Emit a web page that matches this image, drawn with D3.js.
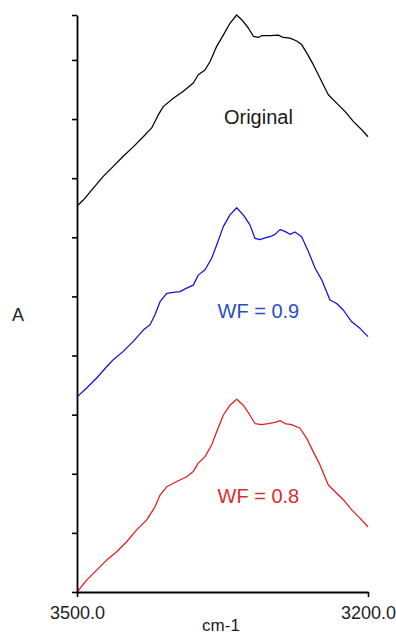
<!DOCTYPE html>
<html>
<head>
<meta charset="utf-8">
<script src="https://cdn.jsdelivr.net/npm/d3@7"></script>
<style>
  html, body { margin: 0; padding: 0; background: #fff; }
  svg { display: block; }
  text { font-family: "Liberation Sans", Arial, sans-serif; }
</style>
</head>
<body>
<svg id="chart" width="396" height="635"></svg>
<script>
// Wavenumber (cm-1) and absorbance readings for each spectrum
const wnOriginal = [3500, 3493.5, 3483.2, 3472.9, 3462.6, 3452.3, 3442.0, 3431.7, 3423.0, 3416.2,
  3411.1, 3400.7, 3390.4, 3380.1, 3375.0, 3368.0, 3362.9, 3356.0, 3349.2, 3342.3,
  3335.4, 3330.2, 3323.4, 3318.2, 3313.1, 3309.6, 3301.0, 3292.5, 3287.3, 3280.4,
  3273.5, 3268.4, 3263.2, 3256.4, 3251.2, 3246.1, 3240.9, 3232.3, 3223.7, 3215.2,
  3206.5, 3200];
const absOriginal = [0.653, 0.663, 0.683, 0.703, 0.720, 0.737, 0.753, 0.770, 0.785, 0.807,
  0.821, 0.835, 0.847, 0.861, 0.875, 0.883, 0.897, 0.923, 0.942, 0.962,
  0.976, 0.968, 0.954, 0.940, 0.938, 0.941, 0.941, 0.942, 0.938, 0.937,
  0.932, 0.926, 0.912, 0.892, 0.875, 0.858, 0.841, 0.827, 0.813, 0.796,
  0.782, 0.770];

const wnWF09 = [3500, 3490.0, 3479.7, 3469.4, 3462.6, 3452.3, 3442.0, 3431.7, 3424.7, 3419.6,
  3414.4, 3407.5, 3400.7, 3393.8, 3386.9, 3380.1, 3375.0, 3368.0, 3361.1, 3356.0,
  3349.2, 3342.3, 3335.4, 3328.6, 3321.7, 3316.5, 3311.3, 3306.2, 3301.0, 3295.9,
  3290.7, 3285.6, 3280.4, 3275.3, 3268.4, 3261.5, 3254.6, 3247.7, 3239.2, 3232.3,
  3225.5, 3216.8, 3208.3, 3200];
const absWF09 = [0.330, 0.345, 0.362, 0.381, 0.393, 0.407, 0.424, 0.443, 0.452, 0.469,
  0.491, 0.505, 0.507, 0.508, 0.514, 0.519, 0.536, 0.545, 0.565, 0.587,
  0.618, 0.638, 0.650, 0.638, 0.621, 0.598, 0.596, 0.599, 0.601, 0.605,
  0.613, 0.610, 0.605, 0.609, 0.601, 0.576, 0.548, 0.528, 0.494, 0.488,
  0.477, 0.457, 0.446, 0.432];

const wnWF08 = [3500, 3490.0, 3479.7, 3469.4, 3459.1, 3448.8, 3438.5, 3428.1, 3419.6, 3414.4,
  3407.5, 3397.2, 3386.9, 3380.1, 3375.0, 3368.0, 3361.1, 3356.0, 3349.2, 3342.3,
  3335.4, 3328.6, 3321.7, 3316.5, 3309.6, 3302.8, 3295.9, 3290.7, 3285.6, 3278.7,
  3270.1, 3263.2, 3256.4, 3249.5, 3240.9, 3232.3, 3223.7, 3216.8, 3208.3, 3200];
const absWF08 = [0.000, 0.020, 0.037, 0.054, 0.068, 0.085, 0.105, 0.122, 0.144, 0.164,
  0.178, 0.187, 0.195, 0.204, 0.218, 0.229, 0.249, 0.271, 0.299, 0.316,
  0.326, 0.316, 0.299, 0.285, 0.283, 0.285, 0.287, 0.290, 0.285, 0.283,
  0.277, 0.260, 0.237, 0.215, 0.181, 0.167, 0.153, 0.139, 0.125, 0.110];

const seriesNames = ["Original", "WF = 0.9", "WF = 0.8"];
const xTicks = [3500, 3200];
const yTicks = [0, 0.1, 0.2, 0.3, 0.4, 0.5, 0.6, 0.7, 0.8, 0.9, 0.976];
const xLabel = "cm-1";
const yLabel = "A";

const series = [
  { name: seriesNames[0], wn: wnOriginal, abs: absOriginal, color: "#000000", text: "#1a1a1a", lx: 3313, ly: 0.792 },
  { name: seriesNames[1], wn: wnWF09, abs: absWF09, color: "#1010d8", text: "#2c4cc8", lx: 3313, ly: 0.464 },
  { name: seriesNames[2], wn: wnWF08, abs: absWF08, color: "#e41c1c", text: "#e02a2a", lx: 3313, ly: 0.151 }
];

const svg = d3.select("#chart");
const x = d3.scaleLinear().domain([3500, 3200]).range([77, 368]);
const y = d3.scaleLinear().domain([0, 0.976]).range([592, 15]);

// Spectra
const line = d3.line().x(d => x(d[0])).y(d => y(d[1]));
series.forEach(s => {
  svg.append("path")
    .datum(s.wn.map((w, i) => [w, s.abs[i]]))
    .attr("fill", "none")
    .attr("stroke", s.color)
    .attr("stroke-width", 1.25)
    .attr("stroke-linejoin", "round")
    .attr("d", line);
  svg.append("text")
    .attr("x", x(s.lx))
    .attr("y", y(s.ly))
    .attr("text-anchor", "middle")
    .attr("font-size", 20)
    .attr("fill", s.text)
    .text(s.name);
});

// Axes
const yAxis = d3.axisLeft(y).tickValues(yTicks).tickFormat("").tickSize(5).tickSizeOuter(0);
const gy = svg.append("g").attr("transform", "translate(77,0)").call(yAxis);
gy.select(".domain").attr("stroke-width", 1.8);
gy.selectAll(".tick line").attr("stroke-width", 1.6);

const xAxis = d3.axisBottom(x).tickValues(xTicks).tickFormat(d3.format(".1f"))
  .tickSize(5).tickSizeOuter(0).tickPadding(9);
const gx = svg.append("g").attr("transform", "translate(0,592)").call(xAxis);
gx.select(".domain").attr("stroke-width", 1.8);
gx.selectAll(".tick line").attr("stroke-width", 1.6);
gx.selectAll(".tick text")
  .attr("font-size", 18)
  .attr("font-family", "'Liberation Sans', Arial, sans-serif")
  .attr("fill", "#222");

// Axis titles
svg.append("text")
  .attr("x", 18).attr("y", 321)
  .attr("text-anchor", "middle")
  .attr("font-size", 18).attr("fill", "#222")
  .text(yLabel);
svg.append("text")
  .attr("x", 221).attr("y", 631)
  .attr("text-anchor", "middle")
  .attr("font-size", 17).attr("fill", "#222")
  .text(xLabel);
</script>
</body>
</html>
